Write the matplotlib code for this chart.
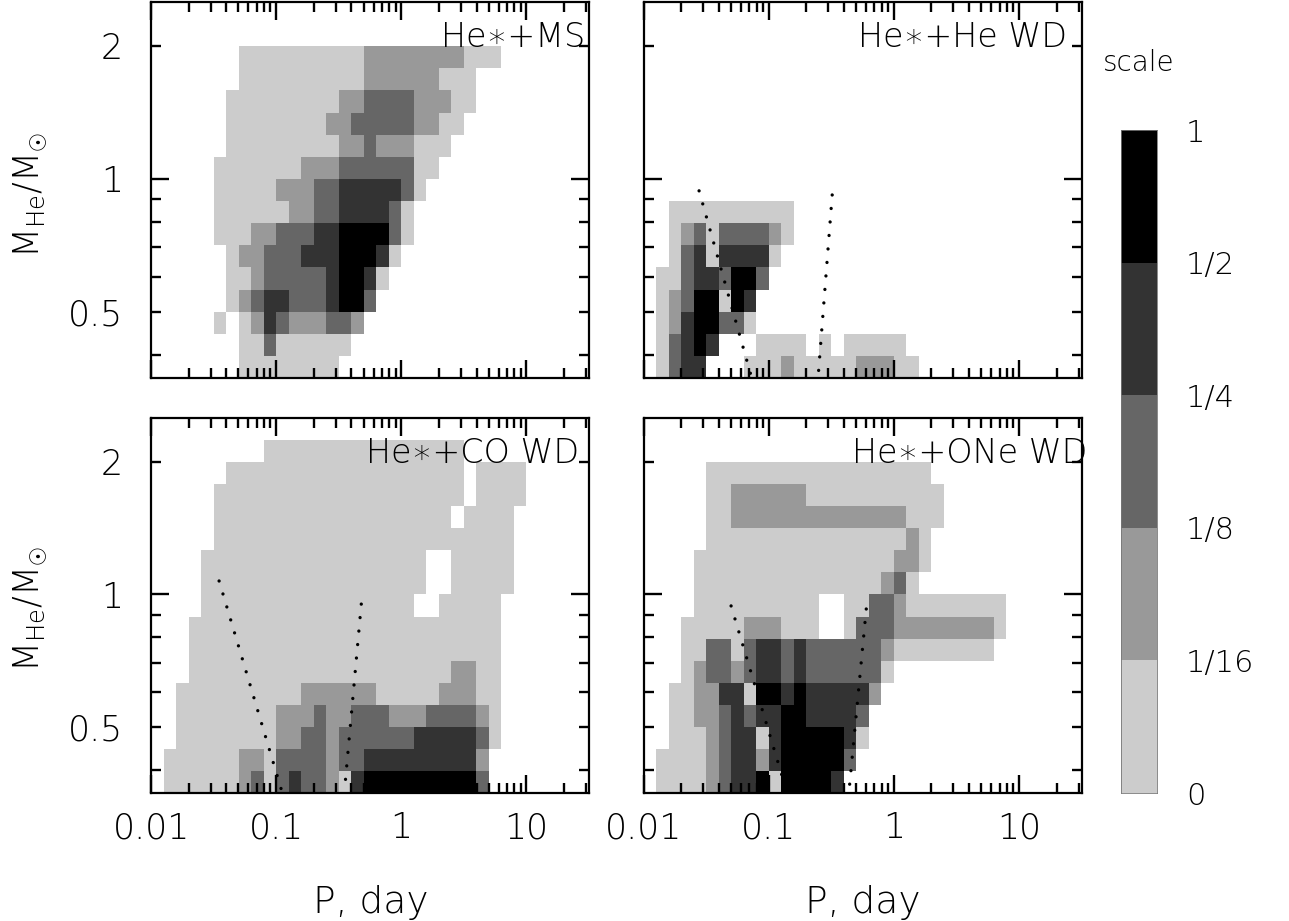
import numpy as np
import matplotlib
matplotlib.use('Agg')
import matplotlib.pyplot as plt
from matplotlib.colors import ListedColormap

# Grey level of each cell, one string per row from the top, one digit per column from P=0.01
# 0 = empty, 1..5 = scale bands 0-1/16 ... 1/2-1
ms_rows = ["", "",
    "0000000111111111122222222111",
    "00000001111111111222222111",
    "00000011111111122333322211",
    "0000001111111122333332211",
    "000000111111111223222111",
    "00000111111122233333311",
    "0000011111222334444431",
    "000001111112233444431",
    "000001112233344555531",
    "00000012233344455541",
    "0000001123333345541",
    "000000123443334553",
    "00000101243222332",
    "0000000113111111",
    "000000011111111"]

he_rows = ["", "", "", "", "", "", "", "", "",
    "001111111111",
    "001231333321",
    "00134144441",
    "0113443553",
    "012355154",
    "012455331",
    "013454000111101011111",
    "0134400011121111122211"]

co_rows = ["",
    "0000000001111111111111111",
    "000000111111111111111111101111",
    "000001111111111111111111101111",
    "00000111111111111111111101111",
    "00000111111111111111111111111",
    "00001111111111111111110011111",
    "00001111111111111111110011111",
    "00001111111111111111100" + "11111",
    "0001111111111111111111111111",
    "0001111111111111111111111111",
    "0001111111111111111111112211",
    "0011111111112222221111122211",
    "0011111111222322333222333321",
    "0011111111223323333334444431",
    "011111122133332334444444442",
    "011111123134332145555555553"]

one_rows = ["", "",
    "00000111111111111111111",
    "000001122222211111111111",
    "000001122222222222222111",
    "00000111111111111111121",
    "00001111111111111111221",
    "0000111111111111111231",
    "00001111111111001133211111111",
    "00011111222111001333222222221",
    "0001133134434333333211111111",
    "00012332344343333331",
    "0011224415545444442",
    "001122343445544443",
    "001112344145555541",
    "01111234424555553",
    "0111123445155554"]

panel_titles = ['He\u2217+MS', 'He\u2217+He WD', 'He\u2217+CO WD', 'He\u2217+ONe WD']

# dotted limit lines, (P, M) end points
he_dots = [([0.0278, 0.0724], [0.94, 0.359]), ([0.322, 0.249], [0.92, 0.359])]
co_dots = [([0.035, 0.1117], [1.073, 0.356]), ([0.479, 0.356], [0.951, 0.373])]
one_dots = [([0.0501, 0.1406], [0.942, 0.355]), ([0.6026, 0.4406], [0.927, 0.363])]

scale_labels = ['0', '1/16', '1/8', '1/4', '1/2', '1']
grey_levels = ['#ffffff', '#cccccc', '#999999', '#666666', '#333333', '#000000']

W, H = 1289, 921
cmap = ListedColormap(grey_levels)

plt.rcParams['font.family'] = 'DejaVu Sans'
plt.rcParams['font.weight'] = 'light'
plt.rcParams['mathtext.fontset'] = 'custom'
plt.rcParams['mathtext.rm'] = 'DejaVu Sans:light'
plt.rcParams['mathtext.it'] = 'DejaVu Sans:light'
plt.rcParams['axes.linewidth'] = 1.6

fig = plt.figure(figsize=(W / 100, H / 100), dpi=100)


def px_axes(x0, y0, x1, y1):
    return fig.add_axes([x0 / W, 1 - y1 / H, (x1 - x0) / W, (y1 - y0) / H])


def draw_panel(box, rows, title, title_xy, dots, xlabels, ylabels):
    ax = px_axes(*box)
    grid = np.zeros((17, 45), dtype=int)
    for r, row in enumerate(rows):
        for c, ch in enumerate(row):
            grid[r, c] = int(ch)

    p_edges = 10 ** (-2 + 0.1 * np.arange(46))
    m_edges = 10 ** (0.4 - 0.05 * np.arange(18))
    ax.pcolormesh(p_edges, m_edges, grid, cmap=cmap, vmin=-0.5, vmax=5.5,
                  antialiased=False, linewidth=0)

    for px, py in dots:
        ax.plot(px, py, color='black', lw=2.4, linestyle=(0, (0.01, 4.05)),
                dash_capstyle='round', zorder=3)

    ax.set_xscale('log')
    ax.set_yscale('log')
    ax.set_xlim(0.01, 10 ** 1.5)
    ax.set_ylim(10 ** -0.45, 10 ** 0.4)

    ax.set_xticks([0.01, 0.1, 1, 10])
    ax.set_xticks([d * k for d in (0.01, 0.1, 1, 10) for k in range(2, 10) if d * k < 31], minor=True)
    ax.set_xticklabels(['0.01', '0.1', '1', '10'] if xlabels else [])
    ax.set_xticklabels([], minor=True)
    ax.set_yticks([1])
    ax.set_yticks([0.4, 0.5, 0.6, 0.7, 0.8, 0.9, 2], minor=True)
    ax.set_yticklabels(['1'] if ylabels else [])
    ax.set_yticklabels(['', '0.5', '', '', '', '', '2'] if ylabels else [], minor=True)

    ax.tick_params(which='major', direction='in', length=13, width=1.7, top=True, right=True,
                   labelsize=25, pad=13)
    ax.tick_params(which='minor', direction='in', length=7.5, width=1.7, top=True, right=True,
                   labelsize=25, pad=13)
    ax.tick_params(axis='y', which='both', pad=20)

    ax.text((title_xy[0] - box[0]) / (box[2] - box[0]), (box[3] - title_xy[1]) / (box[3] - box[1]),
            title, transform=ax.transAxes, fontsize=24, ha='left', va='baseline', zorder=4)
    ax.set_axisbelow(False)
    return ax


draw_panel((151, 2, 589, 378), ms_rows, panel_titles[0], (441, 47), [], False, True)
draw_panel((643.5, 2, 1081.5, 378), he_rows, panel_titles[1], (858, 47), he_dots, False, False)
draw_panel((151, 418, 589, 793), co_rows, panel_titles[2], (366, 463), co_dots, True, True)
draw_panel((643.5, 418, 1081.5, 793), one_rows, panel_titles[3], (852, 463), one_dots, True, False)

for yc in (195, 609):
    fig.text(30 / W, 1 - yc / H, r'$\mathrm{M_{He}/M_{\odot}}$', rotation=90,
             fontsize=25, ha='center', va='center')
for xc in (371, 863):
    fig.text(xc / W, 1 - 902 / H, 'P, day', fontsize=27, ha='center', va='center')

# scale bar
cax = px_axes(1121, 130, 1157, 793)
cax.pcolormesh([0, 1], np.arange(6), np.arange(1, 6).reshape(-1, 1), cmap=cmap, vmin=-0.5, vmax=5.5,
               antialiased=False, linewidth=0)
cax.set_xticks([])
cax.yaxis.tick_right()
cax.set_yticks(np.arange(6))
cax.set_yticklabels(scale_labels)
cax.tick_params(axis='y', length=0, labelsize=22, pad=21)
for s in cax.spines.values():
    s.set_linewidth(0.6)
    s.set_color('#777777')
fig.text(1139 / W, 1 - 63 / H, 'scale', fontsize=20, ha='center', va='center')

fig.savefig('out.png', dpi=100)
